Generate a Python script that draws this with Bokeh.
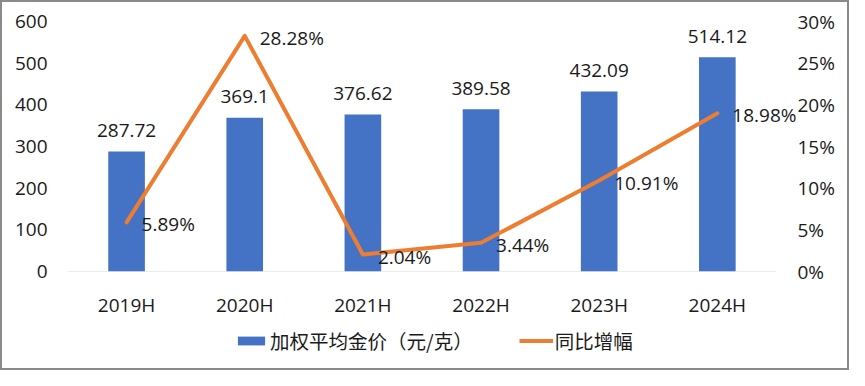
from bokeh.plotting import figure
from bokeh.layouts import column
from bokeh.models import (ColumnDataSource, Range1d, LinearAxis, FixedTicker,
                          PrintfTickFormatter, Legend, LegendItem)
from bokeh.core.properties import value
from bokeh.embed import file_html
from bokeh.resources import INLINE

categories = ["2019H", "2020H", "2021H", "2022H", "2023H", "2024H"]
gold_price = [287.72, 369.1, 376.62, 389.58, 432.09, 514.12]
yoy_growth = [5.89, 28.28, 2.04, 3.44, 10.91, 18.98]
left_ticks = [0, 100, 200, 300, 400, 500, 600]
right_ticks = [0, 5, 10, 15, 20, 25, 30]
bar_name = "加权平均金价（元/克）"
line_name = "同比增幅"

BLUE = "#4472C4"
ORANGE = "#ED7D31"
TXT = "#1a1a1a"
NUM_FONT = "Open Sans"
CJK_FONT = "Noto Sans CJK SC"
FS = "19px"
LFS = "19.5px"

n = len(categories)
xpos = [i + 0.5 for i in range(n)]

src = ColumnDataSource(dict(
    x=xpos,
    price=gold_price,
    growth=yoy_growth,
    price_lbl=[f"{v:g}" for v in gold_price],
    growth_lbl=[f"{v:.2f}%" for v in yoy_growth],
))

p = figure(width=845, height=318, x_range=Range1d(0, n + 0.17), y_range=Range1d(0, 600),
           output_backend="svg", toolbar_location=None,
           min_border_left=65, min_border_right=51, min_border_top=19, min_border_bottom=47)
p.extra_y_ranges = {"pct": Range1d(0, 30)}

p.outline_line_color = None
p.xgrid.grid_line_color = None
p.ygrid.grid_line_color = None

# zero line spanning the category slots
p.segment(x0=[0], y0=[0], x1=[n], y1=[0], line_color="#d9d9d9", line_width=1)

p.vbar(x="x", top="price", width=0.31, source=src, fill_color=BLUE, line_color=None)
p.line(x="x", y="growth", source=src, y_range_name="pct", line_color=ORANGE,
       line_width=4, line_join="round", line_cap="round")

p.text(x="x", y="price", text="price_lbl", source=src, text_align="center",
       text_baseline="middle", y_offset=-21, text_font=value(NUM_FONT),
       text_font_size=FS, text_color=TXT)
p.text(x="x", y="growth", text="growth_lbl", source=src, y_range_name="pct",
       text_align="left", text_baseline="middle", x_offset=15, y_offset=2,
       text_font=value(NUM_FONT), text_font_size=FS, text_color=TXT)

xa = p.xaxis[0]
xa.ticker = FixedTicker(ticks=xpos)
xa.major_label_overrides = {x: c for x, c in zip(xpos, categories)}
xa.axis_line_color = None
xa.major_tick_line_color = None
xa.minor_tick_line_color = None
xa.major_label_standoff = 14
xa.major_label_text_font = NUM_FONT
xa.major_label_text_font_size = FS
xa.major_label_text_color = TXT

ya = p.yaxis[0]
ya.ticker = FixedTicker(ticks=left_ticks)
ya.axis_line_color = None
ya.major_tick_line_color = None
ya.minor_tick_line_color = None
ya.major_label_standoff = 14
ya.major_label_text_font = NUM_FONT
ya.major_label_text_font_size = FS
ya.major_label_text_color = TXT

ra = LinearAxis(y_range_name="pct", ticker=FixedTicker(ticks=right_ticks),
                formatter=PrintfTickFormatter(format="%d%%"))
ra.axis_line_color = None
ra.major_tick_line_color = None
ra.minor_tick_line_color = None
ra.major_label_standoff = -5
ra.major_label_text_font = NUM_FONT
ra.major_label_text_font_size = FS
ra.major_label_text_color = TXT
p.add_layout(ra, "right")

# legend strip: same series drawn out of view (below it), used only as legend keys
lg = figure(width=845, height=48, x_range=Range1d(0, n + 0.17), y_range=Range1d(5000, 5001),
            output_backend="svg", toolbar_location=None,
            min_border_left=65, min_border_right=51, min_border_top=0, min_border_bottom=0)
lg.extra_y_ranges = {"pct": Range1d(5000, 5001)}
lg.xaxis.visible = False
lg.yaxis.visible = False
lg.xgrid.grid_line_color = None
lg.ygrid.grid_line_color = None
lg.outline_line_color = None
kb = lg.vbar(x="x", top="price", width=0.31, source=src, fill_color=BLUE, line_color=None)
kl = lg.line(x="x", y="growth", source=src, y_range_name="pct", line_color=ORANGE, line_width=4)

legend = Legend(items=[LegendItem(label=bar_name, renderers=[kb]),
                       LegendItem(label=line_name, renderers=[kl])],
                location=(167, 13), orientation="horizontal")
legend.border_line_color = None
legend.background_fill_alpha = 0
legend.padding = 0
legend.margin = 0
legend.spacing = 46
legend.label_standoff = 2
legend.glyph_width = 34
legend.glyph_height = 11
legend.label_text_font = CJK_FONT
legend.label_text_font_size = LFS
legend.label_text_color = TXT
lg.add_layout(legend, "center")

layout = column(p, lg, spacing=0)
layout.styles = {"border": "2px solid #8a8a8a"}

open("out.html", "w").write(file_html(layout, INLINE))
